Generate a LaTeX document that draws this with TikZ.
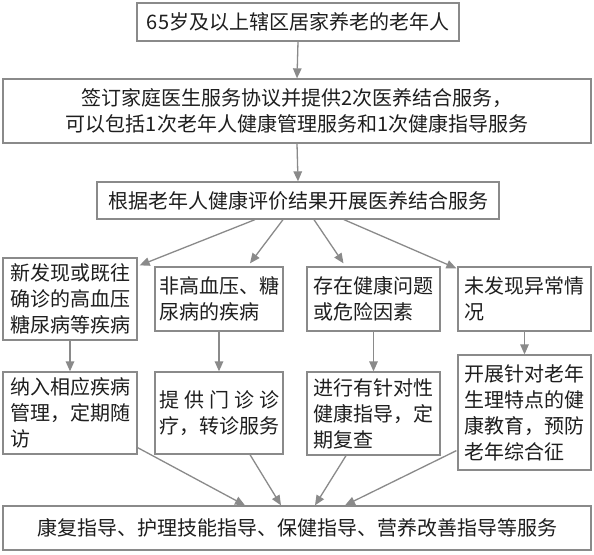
\documentclass[tikz,border=0pt]{standalone}
\usepackage{fontspec}
\newfontfamily\cjk{Noto Sans CJK SC}
\usetikzlibrary{arrows.meta,calc}
\definecolor{bordergray}{HTML}{8A8A8A}
\definecolor{arrowgray}{HTML}{8A8A8A}
\definecolor{txt}{HTML}{1E1E1E}
\begin{document}
\begin{tikzpicture}[x=1pt,y=-1pt,
  box/.style={draw=bordergray,line width=1.3pt,fill=white,text=txt,
    font=\cjk\fontsize{20}{26}\selectfont,inner sep=0pt,align=center},
  lbox/.style={box,text width=120pt,align=left},
  conn/.style={draw=arrowgray,line width=1.3pt,-{Triangle[length=10pt,width=8.5pt]}}]
\useasboundingbox (0,0) rectangle (594,554);
\fill[white] (0,0) rectangle (594,554);

\node[box,minimum width=322pt,minimum height=38pt] (b1) at (298,22) {65岁及以上辖区居家养老的老年人};
\node[box,minimum width=588pt,minimum height=64pt] (b2) at (297,111) {签订家庭医生服务协议并提供2次医养结合服务，\\可以包括1次老年人健康管理服务和1次健康指导服务};
\node[box,minimum width=402pt,minimum height=37pt] (b3) at (298,200.5) {根据老年人健康评价结果开展医养结合服务};

\node[lbox,minimum width=134pt,minimum height=82pt] (a1) at (70,299) {新发现或既往\\确诊的高血压\\糖尿病等疾病};
\node[lbox,minimum width=128pt,minimum height=64pt] (c1b) at (219,299) {非高血压、糖\\尿病的疾病};
\node[lbox,minimum width=133pt,minimum height=64pt] (e1) at (373.5,299) {存在健康问题\\或危险因素};
\node[lbox,minimum width=133pt,minimum height=64pt] (d1) at (524.5,299) {未发现异常情\\况};

\node[lbox,minimum width=134pt,minimum height=82pt] (a2) at (70,413) {纳入相应疾病\\管理，定期随\\访};
\node[lbox,minimum width=128pt,minimum height=82pt] (c2b) at (219,413) {\makebox[120pt][s]{提\hfil 供\hfil 门\hfil 诊\hfil 诊}\\疗，转诊服务};
\node[lbox,minimum width=133pt,minimum height=83pt] (e2) at (373.5,413.5) {进行有针对性\\健康指导，定\\期复查};
\node[lbox,minimum width=133pt,minimum height=115pt] (d2) at (524.5,412.5) {开展针对老年\\生理特点的健\\康教育，预防\\老年综合征};

\node[box,minimum width=588pt,minimum height=44pt] (bot) at (297,528) {康复指导、护理技能指导、保健指导、营养改善指导等服务};

\draw[conn] (b1.south) -- (b2.north);
\draw[conn] (b2.south) -- (b3.north);

\draw[conn] ($(b3.south)+(-43,0)$) -- ($(a1.north east)+(2,8)$);
\draw[conn] ($(b3.south)+(-15,0)$) -- ($(c1b.north)+(31,-3)$);
\draw[conn] ($(b3.south)+(16,0)$) -- ($(e1.north)+(-30,-3)$);
\draw[conn] ($(b3.south)+(46,0)$) -- ($(d1.north west)+(-1,2)$);

\draw[conn] (a1.south) -- (a2.north);
\draw[conn] (c1b.south) -- (c2b.north);
\draw[conn] (e1.south) -- (e2.north);
\draw[conn] (d1.south) -- (d2.north);

\draw[conn] ($(a2.south east)+(0,-7)$) -- ($(bot.north)+(-52,0)$);
\draw[conn] ($(c2b.south)+(31,0)$) -- ($(bot.north)+(-16,0)$);
\draw[conn] ($(e2.south)+(-27.5,0)$) -- ($(bot.north)+(18,0)$);
\draw[conn] ($(d2.south west)+(-1,-20)$) -- ($(bot.north)+(48,0)$);
\end{tikzpicture}
\end{document}
